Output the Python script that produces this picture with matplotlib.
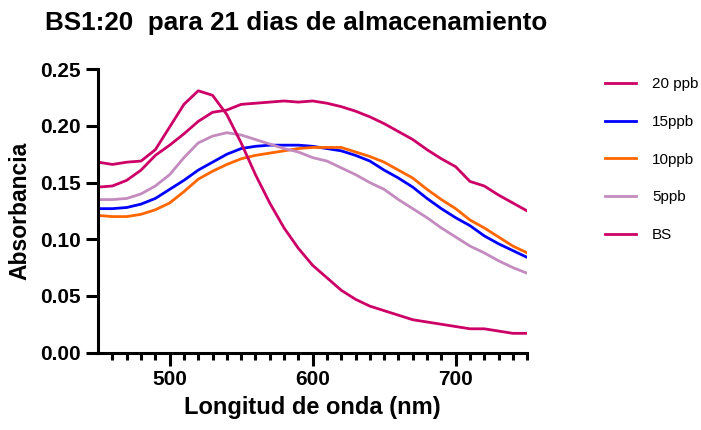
import matplotlib.pyplot as plt
import numpy as np

plt.rcParams["font.family"] = ["Liberation Sans", "DejaVu Sans"]

# -------------------------------------
# Data
# -------------------------------------

wavelength = np.arange(450, 751, 10)

ppb20 = [0.146, 0.147, 0.152, 0.161, 0.174, 0.183, 0.193, 0.204, 0.212, 0.214,
         0.219, 0.220, 0.221, 0.222, 0.221, 0.222, 0.220, 0.217, 0.213, 0.208,
         0.202, 0.195, 0.188, 0.179, 0.171, 0.164, 0.151, 0.147, 0.139, 0.132,
         0.125]
ppb15 = [0.127, 0.127, 0.128, 0.131, 0.136, 0.144, 0.152, 0.161, 0.168, 0.175,
         0.180, 0.182, 0.183, 0.183, 0.183, 0.182, 0.180, 0.178, 0.174, 0.169,
         0.161, 0.154, 0.146, 0.136, 0.127, 0.119, 0.112, 0.103, 0.096, 0.090,
         0.084]
ppb10 = [0.121, 0.120, 0.120, 0.122, 0.126, 0.132, 0.142, 0.153, 0.160, 0.166,
         0.171, 0.174, 0.176, 0.178, 0.180, 0.181, 0.181, 0.181, 0.177, 0.173,
         0.168, 0.161, 0.154, 0.144, 0.135, 0.127, 0.117, 0.110, 0.102, 0.094,
         0.088]
ppb5 = [0.135, 0.135, 0.136, 0.140, 0.147, 0.157, 0.172, 0.185, 0.191, 0.194,
        0.192, 0.188, 0.184, 0.180, 0.177, 0.172, 0.169, 0.163, 0.157, 0.150,
        0.144, 0.135, 0.127, 0.119, 0.110, 0.102, 0.094, 0.088, 0.081, 0.075,
        0.070]
bs = [0.168, 0.166, 0.168, 0.169, 0.179, 0.199, 0.219, 0.231, 0.227, 0.210,
      0.185, 0.157, 0.132, 0.110, 0.092, 0.077, 0.066, 0.055, 0.047, 0.041,
      0.037, 0.033, 0.029, 0.027, 0.025, 0.023, 0.021, 0.021, 0.019, 0.017,
      0.017]

series = [
    ("20 ppb", ppb20, "#CC0066"),
    ("15ppb", ppb15, "#0000FF"),
    ("10ppb", ppb10, "#FF6600"),
    ("5ppb", ppb5, "#C38BBE"),
    ("BS", bs, "#CC0066"),
]

# -------------------------------------
# Plotting
# -------------------------------------

fig = plt.figure(figsize=(7.01, 4.30), dpi=100)
ax = fig.add_axes([0.140, 0.180, 0.612, 0.659])

for label, values, color in series:
    ax.plot(wavelength, values, color=color, lw=2.0, label=label)

ax.set_xlim(450, 750)
ax.set_ylim(0, 0.25)
ax.set_xticks([500, 600, 700])
ax.set_xticks(np.arange(460, 751, 10), minor=True)
ax.set_yticks(np.arange(0, 0.26, 0.05))
ax.yaxis.set_major_formatter(plt.FuncFormatter(lambda v, _: f"{v:.2f}"))

for side in ["top", "right"]:
    ax.spines[side].set_visible(False)
for side in ["left", "bottom"]:
    ax.spines[side].set_linewidth(2.2)

ax.tick_params(axis="both", which="major", width=2.2, length=9, labelsize=15)
ax.tick_params(axis="x", which="minor", width=2.2, length=5)
for lab in ax.get_xticklabels() + ax.get_yticklabels():
    lab.set_fontweight("bold")

ax.set_xlabel("Longitud de onda (nm)", fontsize=17, fontweight="bold", labelpad=5)
ax.set_ylabel("Absorbancia", fontsize=16.5, fontweight="bold", labelpad=6)
fig.suptitle("BS1:20  para 21 dias de almacenamiento", fontsize=18.7,
             fontweight="bold", x=0.423, y=0.975)

ax.legend(loc="upper left", bbox_to_anchor=(1.15, 1.02), frameon=False,
          fontsize=11, handlelength=2.0, handletextpad=1.05, labelspacing=1.55)

fig.savefig("out.png", dpi=100)
